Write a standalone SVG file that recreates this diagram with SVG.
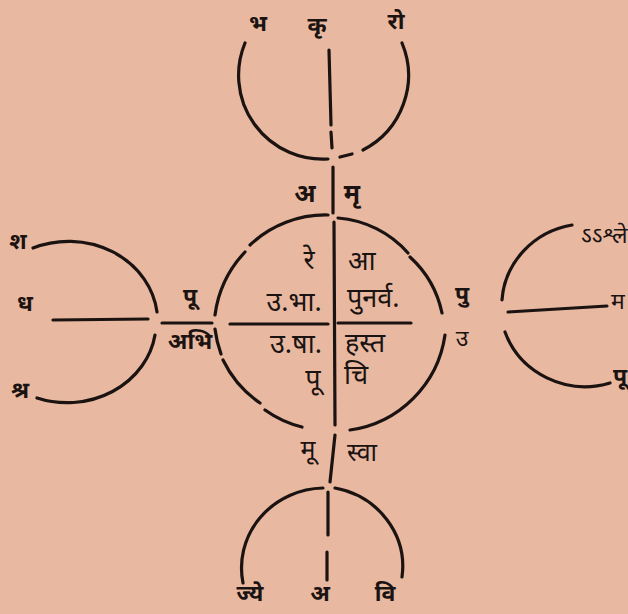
<svg xmlns="http://www.w3.org/2000/svg" width="628" height="614" viewBox="0 0 628 614">
<style>
.ln{fill:none;stroke:#1b1311;stroke-width:3.2;stroke-linecap:round}
.t{font-family:"Noto Sans Devanagari","Noto Sans",sans-serif;fill:#1b1311;font-size:27px;text-anchor:middle;dominant-baseline:central}
.m{font-size:25px}
.o{font-size:23px}
.b{font-weight:bold}
.s{text-anchor:start}
</style>
<rect x="0" y="0" width="628" height="614" fill="#e8b8a0"/>
<g id="connectors">
<path class="ln" d="M329,50 L331,125 M331,132 L332,148 M333,167 L333,213 M334,222 L335,425 M335,435 L330,482 M328,492 L328,535 M327,552 L327,580"/>
<path class="ln" d="M53,320 L148,319 M162,323 L212,323 M230,324 L328,324 M338,323 L411,323 M508,312 L607,306"/>
</g>
<g id="center-circle">
<path class="ln" d="M338,218 A104,104 0 0 1 408,253 M410,257 A105,105 0 0 1 442,313 M445,335 A112,112 0 0 1 350,430 M302,427 A108,108 0 0 1 265,410 M260,403 A110,110 0 0 1 223,360 M221,354 A113,113 0 0 1 215,329 M215,315 A113,113 0 0 1 245,252 M250,245 A110,110 0 0 1 328,215"/>
<text class="t" x="309" y="262">रे</text>
<text class="t s" x="348" y="263">आ</text>
<text class="t" x="294" y="304">उ.भा.</text>
<text class="t s" x="347" y="300">पुनर्व.</text>
<text class="t" x="296" y="346">उ.षा.</text>
<text class="t s" x="345" y="345">हस्त</text>
<text class="t" x="313" y="381">पू</text>
<text class="t s" x="344" y="377">चि</text>
</g>
<g id="top-circle">
<path class="ln" d="M328,159 A84,84 0 0 1 245,43 M340,157 L352,154 M402,43 A84,84 0 0 1 363,150"/>
<text class="t o b" x="258" y="25">भ</text>
<text class="t o b" x="317" y="27">कृ</text>
<text class="t o b" x="396" y="23">रो</text>
</g>
<g id="top-labels">
<text class="t m b" x="305" y="196">अ</text>
<text class="t m b" x="352" y="196">मृ</text>
</g>
<g id="left-circle">
<path class="ln" d="M33,248 A89,80 0 0 1 157,312 M155,335 A89,80 0 0 1 37,398"/>
<text class="t o b" x="18" y="243">श</text>
<text class="t o b" x="25" y="305">ध</text>
<text class="t o b" x="20" y="392">श्र</text>
</g>
<g id="left-labels">
<text class="t o b" x="190" y="298">पू</text>
<text class="t o b" x="190" y="343">अभि</text>
</g>
<g id="right-labels">
<text class="t o b" x="462" y="296">पु</text>
<text class="t o" x="462" y="340">उ</text>
</g>
<g id="right-circle">
<path class="ln" d="M502,300 A85,82 0 0 1 572,225 M610,383 A85,82 0 0 1 505,332"/>
<text class="t o s" x="581" y="237">ऽऽश्ले</text>
<text class="t o s" x="611" y="303">म</text>
<text class="t o s b" x="613" y="378">पू</text>
</g>
<g id="bottom-labels">
<text class="t m" x="308" y="452">मू</text>
<text class="t m" x="362" y="455">स्वा</text>
</g>
<g id="bottom-circle">
<path class="ln" d="M243,583 A83.5,80 0 0 1 323,488 M335,488 A83.5,80 0 0 1 402,577"/>
<text class="t o b" x="250" y="595">ज्ये</text>
<text class="t o b" x="320" y="595">अ</text>
<text class="t o b" x="385" y="595">वि</text>
</g>
</svg>
